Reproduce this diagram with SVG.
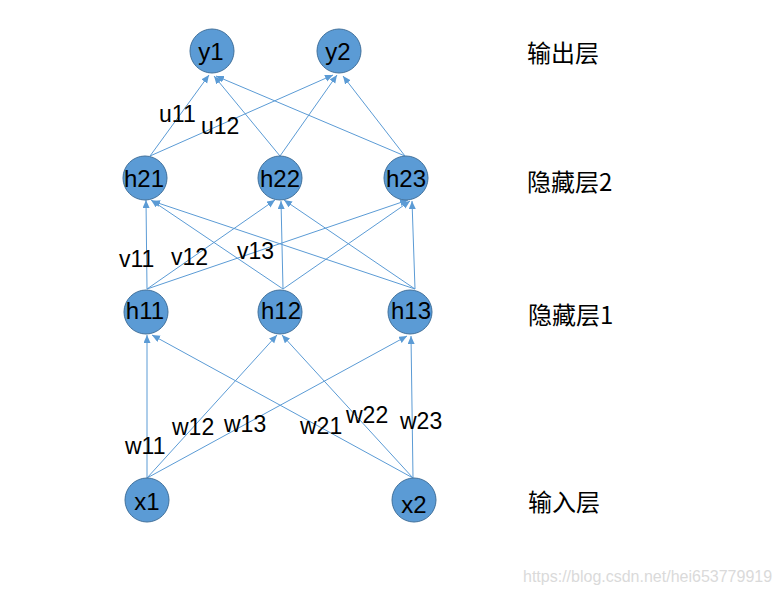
<svg xmlns="http://www.w3.org/2000/svg" width="780" height="594" viewBox="0 0 780 594">
<style>
.n{fill:#5B9BD5;stroke:#41719C;stroke-width:1}
.t{font-family:"Liberation Sans",Arial,sans-serif;font-size:23px;fill:#000}
.nt{font-family:"Liberation Sans",Arial,sans-serif;font-size:24px;fill:#000;text-anchor:middle}
.c{font-family:"Noto Sans CJK SC","Liberation Sans",sans-serif;font-size:24px;fill:#000}
.e{stroke:#5B9BD5;stroke-width:1;fill:none;marker-end:url(#a)}
.w{font-family:"Liberation Sans",Arial,sans-serif;font-size:16px;fill:#DADADA}
</style>
<defs>
<marker id="a" markerUnits="userSpaceOnUse" markerWidth="9" markerHeight="8" refX="8" refY="3.5" orient="auto">
<path d="M0,0 L8,3.5 L0,7 z" fill="#5B9BD5"/>
</marker>
</defs>
<g id="connectors">
<line class="e" x1="147" y1="478" x2="147" y2="335"/>
<line class="e" x1="147" y1="478" x2="277" y2="335"/>
<line class="e" x1="147" y1="478" x2="407" y2="336"/>
<line class="e" x1="413" y1="478" x2="152" y2="335"/>
<line class="e" x1="413" y1="478" x2="282" y2="335"/>
<line class="e" x1="413" y1="478" x2="411" y2="336"/>
<line class="e" x1="147" y1="289" x2="146" y2="200"/>
<line class="e" x1="147" y1="289" x2="275" y2="200"/>
<line class="e" x1="147" y1="289" x2="408" y2="200"/>
<line class="e" x1="283" y1="289" x2="151" y2="200"/>
<line class="e" x1="283" y1="289" x2="281" y2="201"/>
<line class="e" x1="283" y1="289" x2="410" y2="201"/>
<line class="e" x1="415" y1="289" x2="152" y2="201"/>
<line class="e" x1="415" y1="289" x2="284" y2="200"/>
<line class="e" x1="415" y1="289" x2="412" y2="201"/>
<line class="e" x1="150" y1="156" x2="209" y2="75"/>
<line class="e" x1="150" y1="156" x2="333" y2="75"/>
<line class="e" x1="280" y1="156" x2="214" y2="76"/>
<line class="e" x1="280" y1="156" x2="337" y2="75"/>
<line class="e" x1="405" y1="156" x2="216" y2="76"/>
<line class="e" x1="405" y1="156" x2="343" y2="76"/>
</g>
<g id="edge-labels">
<text class="t" x="159" y="122">u11</text>
<text class="t" x="201" y="134">u12</text>
<text class="t" x="119" y="267">v11</text>
<text class="t" x="171" y="265">v12</text>
<text class="t" x="237" y="259">v13</text>
<text class="t" x="125" y="454">w11</text>
<text class="t" x="172" y="435">w12</text>
<text class="t" x="224" y="432">w13</text>
<text class="t" x="300" y="434">w21</text>
<text class="t" x="346" y="423">w22</text>
<text class="t" x="400" y="429">w23</text>
</g>
<g id="y1"><circle class="n" cx="212" cy="51" r="22"/><text class="nt" x="211" y="60">y1</text></g>
<g id="y2"><circle class="n" cx="339" cy="51" r="22"/><text class="nt" x="338" y="60">y2</text></g>
<g id="h21"><circle class="n" cx="145" cy="178" r="22"/><text class="nt" x="144" y="187">h21</text></g>
<g id="h22"><circle class="n" cx="280" cy="178" r="22"/><text class="nt" x="280" y="187">h22</text></g>
<g id="h23"><circle class="n" cx="406" cy="178" r="22"/><text class="nt" x="406" y="187">h23</text></g>
<g id="h11"><circle class="n" cx="146" cy="312" r="22"/><text class="nt" x="145" y="319">h11</text></g>
<g id="h12"><circle class="n" cx="280" cy="312" r="22"/><text class="nt" x="281" y="319">h12</text></g>
<g id="h13"><circle class="n" cx="410" cy="312" r="22"/><text class="nt" x="411" y="319">h13</text></g>
<g id="x1"><circle class="n" cx="147" cy="500" r="22"/><text class="nt" x="147" y="510">x1</text></g>
<g id="x2"><circle class="n" cx="414" cy="500" r="22"/><text class="nt" x="414" y="513">x2</text></g>
<g id="layer-labels">
<text class="c" x="527" y="62">输出层</text>
<text class="c" x="527" y="191">隐藏层2</text>
<text class="c" x="528" y="324">隐藏层1</text>
<text class="c" x="528" y="511">输入层</text>
</g>
<text class="w" x="523" y="582">https://blog.csdn.net/hei653779919</text>
</svg>
